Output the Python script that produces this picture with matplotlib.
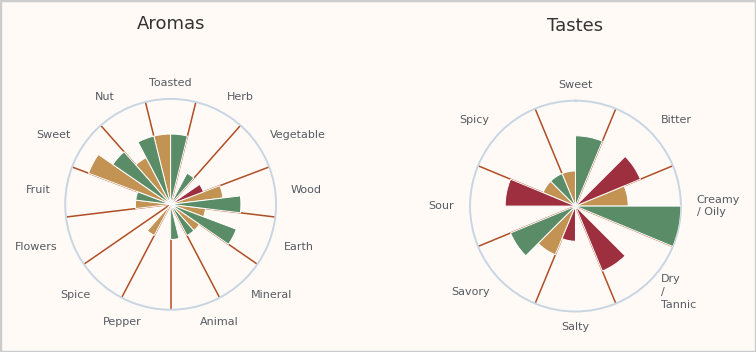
import numpy as np
import matplotlib
matplotlib.use("Agg")
import matplotlib.pyplot as plt
from matplotlib.patches import Rectangle

GREEN = '#5b8c68'
GOLD = '#c29352'
RED = '#9d2f3e'
BG = '#fffaf6'

# Aromas: each category has a left half (series A) and a right half (series B)
aroma_cats = ['Toasted', 'Herb', 'Vegetable', 'Wood', 'Earth', 'Mineral', 'Animal',
              'Pepper', 'Spice', 'Flowers', 'Fruit', 'Sweet', 'Nut']
aroma_left = [2, 0, 0, 1.5, 1, 1, 0, 0, 1, 0, 1, 2.5, 1.5]
aroma_right = [2, 1, 1, 2, 2, 1, 1, 0, 0, 0, 1, 2, 2]
aroma_left_col = [GOLD] * 13
aroma_right_col = [GREEN, GREEN, RED, GREEN, GREEN, GREEN, GREEN,
                   GREEN, GREEN, GREEN, GREEN, GREEN, GREEN]

# Tastes
taste_cats = ['Sweet', 'Bitter', 'Creamy\n/ Oily', 'Dry\n/\nTannic', 'Salty',
              'Savory', 'Sour', 'Spicy']
taste_left = [1, 0, 1.5, 0, 0, 1.5, 0, 1]
taste_right = [2, 2, 3, 2, 1, 2, 2, 1]
taste_left_col = [GOLD] * 8
taste_right_col = [GREEN, RED, GREEN, RED, RED, GREEN, RED, GREEN]

YMAX = 3


def polar_chart(ax, title, cats, left, right, left_col, right_col):
    n = len(cats)
    step = 2 * np.pi / n
    centers = np.arange(n) * step
    ax.set_theta_zero_location('N')
    ax.set_theta_direction(-1)
    ax.set_facecolor(BG)
    ax.set_ylim(0, YMAX)
    ax.set_yticks([])
    ax.set_xticks(centers + step / 2)
    ax.set_xticklabels([])
    ax.tick_params(axis='x', length=0)
    ax.xaxis.grid(True, color='#b04e24', linewidth=1.1)
    ax.yaxis.grid(False)
    ax.spines['polar'].set_color('#c8d5e3')
    ax.spines['polar'].set_linewidth(1.4)

    ax.bar(centers - step / 4, left, width=step / 2, color=left_col,
           edgecolor='white', linewidth=0.7, zorder=3)
    ax.bar(centers + step / 4, right, width=step / 2, color=right_col,
           edgecolor='white', linewidth=0.7, zorder=3)

    for a, lab in zip(centers, cats):
        s = np.sin(a)
        if s > 0.2:
            ha = 'left'
        elif s < -0.2:
            ha = 'right'
        else:
            ha = 'center'
        ax.text(a, YMAX * 1.15, lab, ha=ha, va='center', fontsize=8,
                color='#555b62', linespacing=1.35, clip_on=False)

    ax.set_title(title, fontsize=13, color='#333333', pad=50)


fig = plt.figure(figsize=(7.56, 3.52), dpi=100)
fig.patch.set_facecolor(BG)

ax1 = fig.add_axes([0.0862, 0.120, 0.279, 0.599], projection='polar')
polar_chart(ax1, 'Aromas', aroma_cats, aroma_left, aroma_right,
            aroma_left_col, aroma_right_col)

ax2 = fig.add_axes([0.6217, 0.115, 0.279, 0.599], projection='polar')
polar_chart(ax2, 'Tastes', taste_cats, taste_left, taste_right,
            taste_left_col, taste_right_col)

fig.patches.append(Rectangle((0, 0), 1, 1, transform=fig.transFigure,
                             fill=False, edgecolor='#cccccc', linewidth=2.5))

fig.savefig('out.png', dpi=100, facecolor=BG)
